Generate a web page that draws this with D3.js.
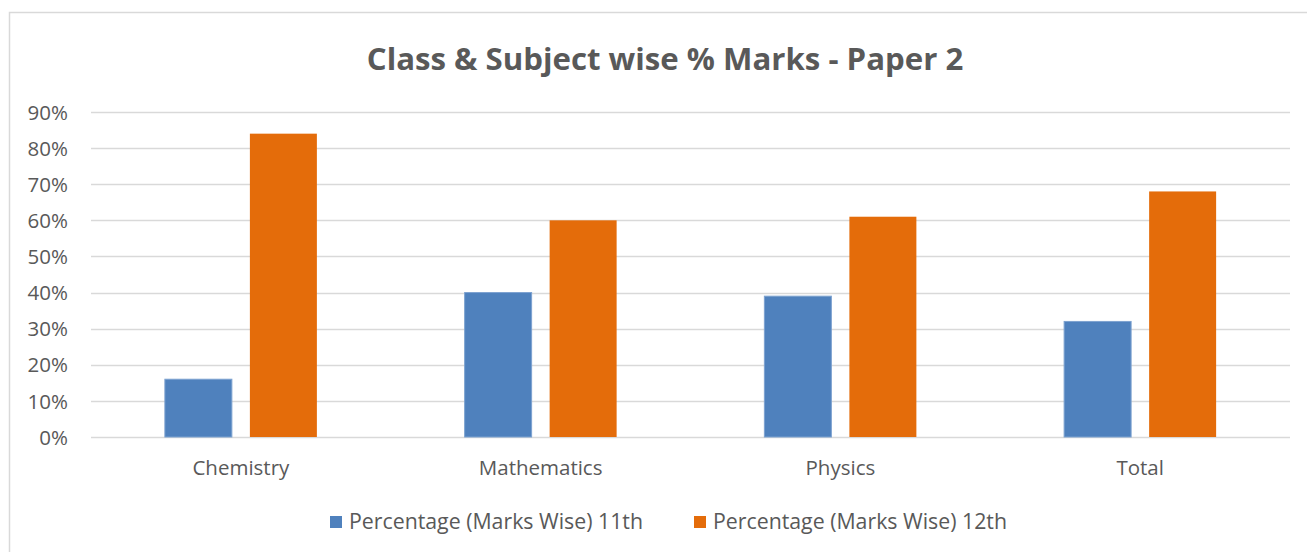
<!DOCTYPE html>
<html>
<head>
<meta charset="utf-8">
<script src="https://cdn.jsdelivr.net/npm/d3@7"></script>
<style>
  body { margin: 0; background: #fff; }
  text { font-family: "Open Sans", "Noto Sans", sans-serif; fill: #595959; }
</style>
</head>
<body>
<script>
  var categories = ["Chemistry", "Mathematics", "Physics", "Total"];
  var seriesNames = ["Percentage (Marks Wise) 11th", "Percentage (Marks Wise) 12th"];
  var values11 = [0.16, 0.40, 0.39, 0.32];
  var values12 = [0.84, 0.60, 0.61, 0.68];
  var yTicks = [0, 0.1, 0.2, 0.3, 0.4, 0.5, 0.6, 0.7, 0.8, 0.9];
  var colors = ["#4F81BD", "#E46C0A"];

  var width = 1307, height = 552;
  var margin = { left: 91, right: 17, top: 112, bottom: 115 };
  var fontSize = 20.5;

  var svg = d3.select("body").append("svg")
    .attr("width", width)
    .attr("height", height);

  // chart frame
  svg.append("rect")
    .attr("x", 9.5).attr("y", 12.5)
    .attr("width", 1320).attr("height", 560)
    .attr("fill", "none")
    .attr("stroke", "#d9d9d9")
    .attr("stroke-width", 1.5);

  var xScale = d3.scaleBand()
    .domain(categories)
    .range([margin.left, width - margin.right]);

  var xInner = d3.scaleBand()
    .domain([0, 1])
    .range([0, xScale.bandwidth()])
    .paddingInner(0.212)
    .paddingOuter(0.869);

  var yScale = d3.scaleLinear()
    .domain([0, 0.9])
    .range([height - margin.bottom, margin.top]);

  // gridlines
  svg.append("g")
    .selectAll("line")
    .data(yTicks)
    .enter()
    .append("line")
    .attr("x1", margin.left)
    .attr("x2", width - margin.right)
    .attr("y1", function (d) { return Math.round(yScale(d)) + 0.5; })
    .attr("y2", function (d) { return Math.round(yScale(d)) + 0.5; })
    .attr("stroke", "#d9d9d9")
    .attr("stroke-width", 1.5);

  // y labels
  var yAxis = d3.axisLeft(yScale)
    .tickValues(yTicks)
    .tickFormat(d3.format(".0%"))
    .tickSize(0)
    .tickPadding(23);
  var yg = svg.append("g")
    .attr("transform", "translate(" + margin.left + ",0)")
    .call(yAxis);
  yg.select(".domain").remove();
  yg.selectAll("text")
    .attr("font-size", fontSize)
    .attr("dy", "0.35em")
    .style("font-family", "\"Open Sans\", sans-serif")
    .attr("fill", "#595959");

  // bars
  var rows = categories.map(function (c, i) {
    return { cat: c, vals: [values11[i], values12[i]] };
  });

  var groups = svg.append("g")
    .selectAll("g")
    .data(rows)
    .enter()
    .append("g")
    .attr("transform", function (d) { return "translate(" + xScale(d.cat) + ",0)"; });

  groups.selectAll("rect")
    .data(function (d) { return d.vals; })
    .enter()
    .append("rect")
    .attr("x", function (d, i) { return xInner(i); })
    .attr("width", xInner.bandwidth())
    .attr("y", function (d) { return yScale(d); })
    .attr("height", function (d) { return yScale(0) - yScale(d); })
    .attr("fill", function (d, i) { return colors[i]; })
    .attr("stroke", function (d, i) { return i === 0 ? "#7da2d0" : "none"; })
    .attr("stroke-width", 1);

  // x labels
  var xAxis = d3.axisBottom(xScale).tickSize(0).tickPadding(23);
  var xg = svg.append("g")
    .attr("transform", "translate(0," + (height - margin.bottom) + ")")
    .call(xAxis);
  xg.select(".domain").remove();
  xg.selectAll("text")
    .attr("font-size", fontSize)
    .style("font-family", "\"Open Sans\", sans-serif")
    .attr("fill", "#595959");

  // title
  svg.append("text")
    .attr("x", 665)
    .attr("y", 70)
    .attr("text-anchor", "middle")
    .attr("font-size", 31.2)
    .attr("font-weight", "bold")
    .text("Class & Subject wise % Marks - Paper 2");

  // legend
  var legendX = [330, 694];
  var legend = svg.append("g")
    .selectAll("g")
    .data(seriesNames)
    .enter()
    .append("g")
    .attr("transform", function (d, i) { return "translate(" + legendX[i] + ",516)"; });
  legend.append("rect")
    .attr("width", 12).attr("height", 12)
    .attr("fill", function (d, i) { return colors[i]; });
  legend.append("text")
    .attr("x", 19)
    .attr("y", 6)
    .attr("dy", "0.35em")
    .attr("font-size", 21.3)
    .text(function (d) { return d; });
</script>
</body>
</html>
